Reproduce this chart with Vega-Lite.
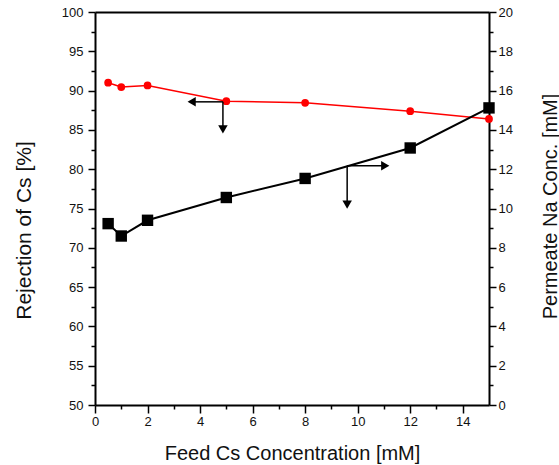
{
  "$schema": "https://vega.github.io/schema/vega-lite/v6.json",
  "width": 394,
  "height": 393,
  "autosize": {"type": "none"},
  "padding": {"left": 95, "top": 12, "right": 70, "bottom": 60},
  "background": "white",
  "config": {
    "view": {"stroke": null},
    "font": "Liberation Sans",
    "axis": {
      "domainColor": "black",
      "domainWidth": 2,
      "tickColor": "black",
      "tickWidth": 1.5,
      "labelFont": "Liberation Sans",
      "labelFontSize": 13,
      "labelColor": "#111111",
      "labelOverlap": false,
      "labelFlush": false,
      "titleFont": "Liberation Sans",
      "titleFontWeight": "normal",
      "titleColor": "#111111",
      "grid": false,
      "tickCount": 100,
      "format": "d"
    }
  },
  "datasets": {
    "rejection": [
      {"feed": 0.5, "rejection": 91.0},
      {"feed": 1, "rejection": 90.45},
      {"feed": 2, "rejection": 90.65},
      {"feed": 5, "rejection": 88.66},
      {"feed": 8, "rejection": 88.44},
      {"feed": 12, "rejection": 87.38},
      {"feed": 15, "rejection": 86.4}
    ],
    "na": [
      {"feed": 0.5, "na": 9.23},
      {"feed": 1, "na": 8.6},
      {"feed": 2, "na": 9.4},
      {"feed": 5, "na": 10.56},
      {"feed": 8, "na": 11.53},
      {"feed": 12, "na": 13.08},
      {"feed": 15, "na": 15.12}
    ],
    "arrowsRej": [
      {"feed": 4.87, "rejection": 88.57, "feedEnd": 3.68, "rejectionEnd": 88.57, "dir": "left"},
      {"feed": 4.87, "rejection": 88.57, "feedEnd": 4.87, "rejectionEnd": 85.08, "dir": "down"}
    ],
    "arrowsNa": [
      {"feed": 9.6, "na": 12.17, "feedEnd": 11.05, "naEnd": 12.17, "dir": "right"},
      {"feed": 9.6, "na": 12.17, "feedEnd": 9.6, "naEnd": 10.2, "dir": "down"}
    ],
    "anchor": [{"v": 0}]
  },
  "layer": [
    {
      "data": {"name": "rejection"},
      "mark": {"type": "line", "color": "#ff0000", "strokeWidth": 1.5},
      "encoding": {
        "x": {
          "field": "feed", "type": "quantitative",
          "scale": {"domain": [0, 15], "nice": false, "zero": false},
          "axis": {
            "orient": "bottom",
            "title": "Feed Cs Concentration [mM]",
            "values": [0, 2, 4, 6, 8, 10, 12, 14],
            "tickSize": 8,
            "labelPadding": 2,
            "titleFontSize": 20,
            "titleX": 197,
            "titleY": 54,
            "titleBaseline": "alphabetic",
            "titleAlign": "center"
          }
        },
        "y": {
          "field": "rejection", "type": "quantitative",
          "scale": {"domain": [50, 100], "nice": false, "zero": false},
          "axis": {
            "orient": "left",
            "title": "Rejection of Cs [%]",
            "values": [50, 55, 60, 65, 70, 75, 80, 85, 90, 95, 100],
            "tickSize": 7,
            "labelPadding": 5,
            "titleFontSize": 21,
            "titleAngle": 270,
            "titleX": -65,
            "titleY": 218,
            "titleBaseline": "alphabetic",
            "titleAlign": "center"
          }
        }
      }
    },
    {
      "data": {"name": "rejection"},
      "mark": {"type": "point", "shape": "circle", "filled": true, "color": "#ff0000", "size": 60, "opacity": 1},
      "encoding": {
        "x": {"field": "feed", "type": "quantitative", "axis": null},
        "y": {"field": "rejection", "type": "quantitative", "scale": {"domain": [50, 100], "nice": false, "zero": false}, "axis": null}
      }
    },
    {
      "data": {"name": "arrowsRej"},
      "mark": {"type": "rule", "color": "black", "strokeWidth": 1.5},
      "encoding": {
        "x": {"field": "feed", "type": "quantitative", "axis": null},
        "x2": {"field": "feedEnd"},
        "y": {"field": "rejection", "type": "quantitative", "scale": {"domain": [50, 100], "nice": false, "zero": false}, "axis": null},
        "y2": {"field": "rejectionEnd"}
      }
    },
    {
      "data": {"name": "arrowsRej"},
      "mark": {"type": "point", "filled": true, "color": "black", "size": 90, "opacity": 1},
      "encoding": {
        "x": {"field": "feedEnd", "type": "quantitative", "axis": null},
        "y": {"field": "rejectionEnd", "type": "quantitative", "scale": {"domain": [50, 100], "nice": false, "zero": false}, "axis": null},
        "shape": {
          "field": "dir", "type": "nominal",
          "scale": {"domain": ["left", "down", "right"], "range": ["triangle-left", "triangle-down", "triangle-right"]},
          "legend": null
        }
      }
    },
    {
      "data": {"name": "na"},
      "mark": {"type": "line", "color": "black", "strokeWidth": 2},
      "encoding": {
        "x": {"field": "feed", "type": "quantitative", "axis": null},
        "y": {
          "field": "na", "type": "quantitative",
          "scale": {"domain": [0, 20], "nice": false},
          "axis": {
            "orient": "right",
            "title": "Permeate Na Conc. [mM]",
            "values": [0, 2, 4, 6, 8, 10, 12, 14, 16, 18, 20],
            "tickSize": 7,
            "labelPadding": 2,
            "titleFontSize": 20,
            "titleAngle": 270,
            "titleX": 67,
            "titleY": 194,
            "titleBaseline": "alphabetic",
            "titleAlign": "center"
          }
        }
      }
    },
    {
      "data": {"name": "na"},
      "mark": {"type": "point", "shape": "square", "filled": true, "color": "black", "size": 130, "opacity": 1},
      "encoding": {
        "x": {"field": "feed", "type": "quantitative", "axis": null},
        "y": {"field": "na", "type": "quantitative", "scale": {"domain": [0, 20], "nice": false}, "axis": null}
      }
    },
    {
      "data": {"name": "arrowsNa"},
      "mark": {"type": "rule", "color": "black", "strokeWidth": 1.5},
      "encoding": {
        "x": {"field": "feed", "type": "quantitative", "axis": null},
        "x2": {"field": "feedEnd"},
        "y": {"field": "na", "type": "quantitative", "scale": {"domain": [0, 20], "nice": false}, "axis": null},
        "y2": {"field": "naEnd"}
      }
    },
    {
      "data": {"name": "arrowsNa"},
      "mark": {"type": "point", "filled": true, "color": "black", "size": 90, "opacity": 1},
      "encoding": {
        "x": {"field": "feedEnd", "type": "quantitative", "axis": null},
        "y": {"field": "naEnd", "type": "quantitative", "scale": {"domain": [0, 20], "nice": false}, "axis": null},
        "shape": {
          "field": "dir", "type": "nominal",
          "scale": {"domain": ["left", "down", "right"], "range": ["triangle-left", "triangle-down", "triangle-right"]},
          "legend": null
        }
      }
    },
    {
      "data": {"name": "anchor"},
      "mark": {"type": "rule", "opacity": 0},
      "encoding": {
        "y": {
          "field": "v", "type": "quantitative",
          "scale": {"domain": [50, 100], "nice": false, "zero": false},
          "axis": {"orient": "left", "tickSize": 4, "domain": false, "labels": false, "title": null,
                   "values": [52.5, 57.5, 62.5, 67.5, 72.5, 77.5, 82.5, 87.5, 92.5, 97.5]}
        }
      }
    },
    {
      "data": {"name": "anchor"},
      "mark": {"type": "rule", "opacity": 0},
      "encoding": {
        "y": {
          "field": "v", "type": "quantitative",
          "scale": {"domain": [0, 20], "nice": false},
          "axis": {"orient": "right", "tickSize": 4, "domain": false, "labels": false, "title": null,
                   "values": [1, 3, 5, 7, 9, 11, 13, 15, 17, 19]}
        }
      }
    },
    {
      "data": {"name": "anchor"},
      "mark": {"type": "rule", "opacity": 0},
      "encoding": {
        "x": {
          "field": "v", "type": "quantitative",
          "axis": {"orient": "bottom", "tickSize": 4, "domain": false, "labels": false, "title": null,
                   "values": [1, 3, 5, 7, 9, 11, 13]}
        }
      }
    },
    {
      "data": {"name": "anchor"},
      "mark": {"type": "rule", "opacity": 0},
      "encoding": {
        "x": {
          "field": "v", "type": "quantitative",
          "axis": {"orient": "top", "ticks": false, "labels": false, "title": null, "domain": true}
        }
      }
    }
  ],
  "resolve": {"scale": {"y": "independent"}, "axis": {"x": "independent", "y": "independent"}}
}
